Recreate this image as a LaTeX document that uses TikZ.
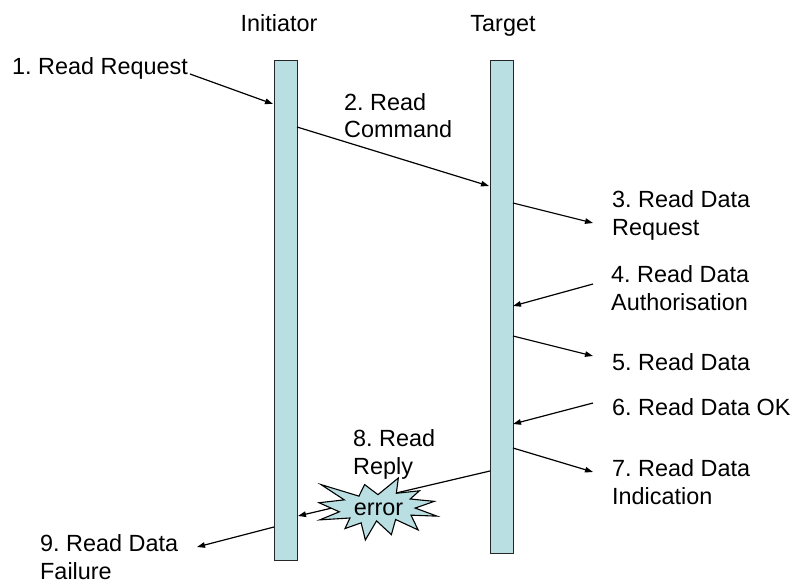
\documentclass[tikz,border=0pt]{standalone}
\usepackage{fontspec}
\setmainfont{Liberation Sans}
\usetikzlibrary{arrows.meta}
\definecolor{barfill}{RGB}{185,223,227}
\frenchspacing
\begin{document}
\begin{tikzpicture}[x=1pt,y=-1pt,
  lifeline/.style={draw=black!85, line width=1.3pt, fill=barfill, inner sep=0pt,
    minimum width=23pt, anchor=north west},
  lbl/.style={font=\fontsize{23.4}{28}\selectfont, inner sep=0pt, anchor=base west, align=left},
  head/.style={font=\fontsize{23.4}{28}\selectfont, inner sep=0pt, anchor=base},
  msg/.style={line width=1.2pt, -{Triangle[length=8pt,width=5.5pt]}},
  burst/.style={draw=black, line width=1.1pt, fill=barfill, line join=miter}]
\useasboundingbox (0,0) rectangle (792,583);

% lifelines
\node[lifeline, minimum height=500pt] (init) at (274,60) {};
\node[lifeline, minimum height=493pt] (targ) at (490,60) {};

% headings
\node[head] (hinit) at (279,32) {Initiator};
\node[head] (htarg) at (503,32) {Target};

% message labels (base anchor = baseline of the last line)
\node[lbl] (l1) at (12,75)  {1. Read Request};
\node[lbl] (l2) at (344,138) {2. Read\\Command};
\node[lbl] (l3) at (612,235) {3. Read Data\\Request};
\node[lbl] (l4) at (611,310) {4. Read Data\\Authorisation};
\node[lbl] (l5) at (612,370) {5. Read Data};
\node[lbl] (l6) at (612,415) {6. Read Data OK};
\node[lbl] (l7) at (612,504) {7. Read Data\\Indication};
\node[lbl] (l8) at (353,474) {8. Read\\Reply};
\node[lbl] (l9) at (40,579)  {9. Read Data\\Failure};

% message end points
\coordinate (a1s) at (190,74);  \coordinate (a1e) at (273,104);
\coordinate (a2s) at (297,127); \coordinate (a2e) at (489,186);
\coordinate (a3s) at (513,203); \coordinate (a3e) at (593,223);
\coordinate (a4s) at (593,284); \coordinate (a4e) at (513,306);
\coordinate (a5s) at (513,336); \coordinate (a5e) at (593,356);
\coordinate (a6s) at (593,403); \coordinate (a6e) at (513,424);
\coordinate (a7s) at (513,448); \coordinate (a7e) at (593,472);
\coordinate (a8s) at (490,471); \coordinate (a8e) at (298,516);
\coordinate (a9s) at (274,527); \coordinate (a9e) at (197,547);

\foreach \m in {1,...,9}
  \draw[msg] (a\m s) -- (a\m e);

% error explosion over the failed reply
\begin{scope}[shift={(319,478)}, x=0.5463pt, y=-0.287pt]
  \draw[burst] (108,58) -- (145.22,0) -- (141.55,53.25) -- (183.80,44.57)
    -- (167.02,73.15) -- (210.97,81.37) -- (176.07,104.75) -- (216,132.90)
    -- (168.37,129.42) -- (181.45,180.95) -- (140.20,144.57) -- (132.47,197.37)
    -- (105.32,149.35) -- (84.85,216) -- (77.15,156.27) -- (47.62,176.17)
    -- (56.67,139.37) -- (1.35,145.87) -- (37.22,117.75) -- (0,86.15)
    -- (46.27,76.17) -- (3.70,22.95) -- (73.12,63.20) -- (83.52,22.95) -- cycle;
\end{scope}
\node[head] (err) at (378.5,515) {error};
\end{tikzpicture}
\end{document}
